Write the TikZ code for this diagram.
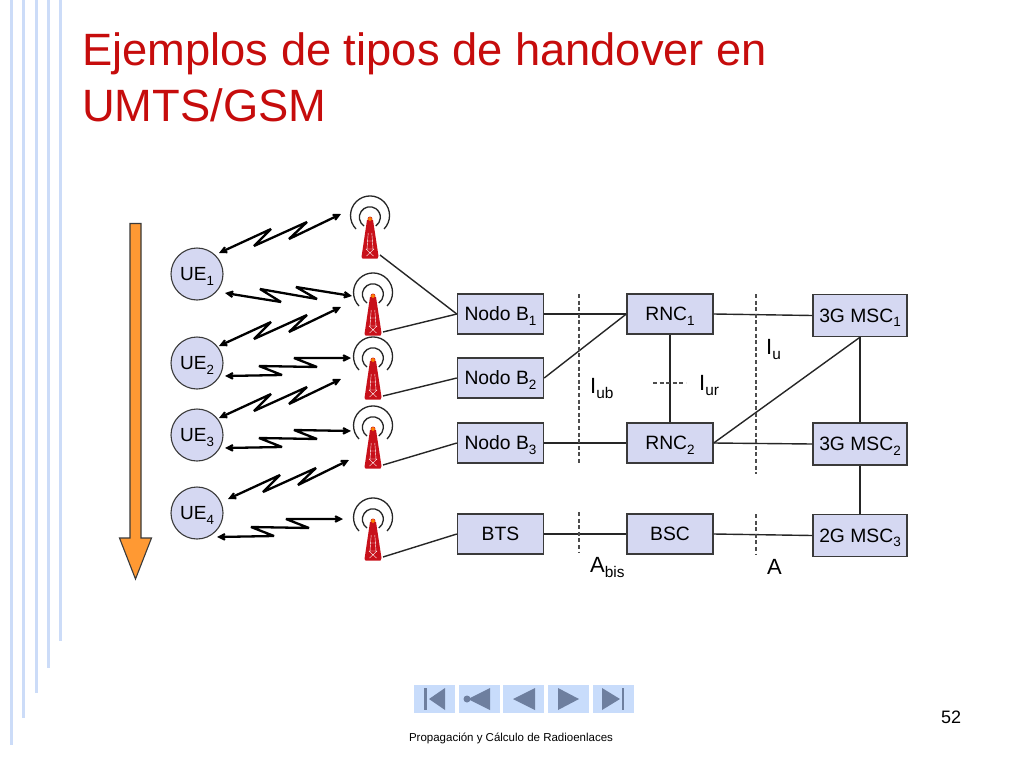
\documentclass[tikz,border=0pt]{standalone}
\usepackage{fontspec}
\setmainfont{Liberation Sans}
\usetikzlibrary{arrows.meta}
\definecolor{titlered}{HTML}{C60C0C}
\definecolor{barblue}{HTML}{CCDCF8}
\definecolor{boxfill}{HTML}{D5D8F2}
\definecolor{boxline}{HTML}{3A3A3A}
\definecolor{navfill}{HTML}{C8DCFB}
\definecolor{navicon}{HTML}{6E7F9F}
\definecolor{towerred}{HTML}{C8101A}
\definecolor{sweeporange}{HTML}{FF9933}
\newcommand{\lowtxt}[1]{\raisebox{-.24em}{\scalebox{.7}{#1}}}
\tikzset{
    x=1pt, y=-1pt,
    box/.style={draw=boxline, fill=boxfill, line width=1.4pt, minimum width=86pt, minimum height=40pt, inner sep=0pt, text height=13.5pt, text depth=0pt, font=\fontsize{19.3}{21}\selectfont},
    mscbox/.style={box, minimum width=94pt, minimum height=42pt},
    ue/.style={circle, draw=boxline, fill=boxfill, line width=1.1pt, minimum size=52pt, inner sep=0pt, text height=13.5pt, text depth=0pt, font=\fontsize{19}{21}\selectfont},
    iface/.style={inner sep=0pt, font=\fontsize{22}{24}\selectfont},
    link/.style={draw=black!85, line width=1.4pt},
    cut/.style={draw=black!70, line width=1.3pt, dash pattern=on 4pt off 2.6pt},
    radio/.style={line width=2.3pt, miter limit=3, {Stealth[length=10pt,width=10pt]}-{Stealth[length=10pt,width=10pt]}},
    boltup/.style={to path={-- ++(52,-24) -- ++(-17,17) -- ++(53,-24) -- ++(-18,17) -- (\tikztotarget)}},
    boltlevel/.style={to path={-- ++(56,9) -- ++(-21,-13) -- ++(57,10) -- ++(-21,-12) -- (\tikztotarget)}},
    boltlow/.style={to path={-- ++(57,-1) -- ++(-23,-9) -- ++(58,1) -- ++(-23,-9) -- (\tikztotarget)}},
    navbtn/.style={fill=navfill, minimum width=41pt, minimum height=28pt, inner sep=0pt},
    tower/.pic={
        \coordinate (-foot) at (10,36);
        \draw[black!85, line width=1.3pt] (-14,10) arc[start angle=224, end angle=-44, radius=19.5pt];
        \draw[black!85, line width=1.3pt] (-6,7) arc[start angle=236, end angle=-56, radius=10.5pt];
        \fill[towerred] (-3,1) -- (3,1) -- (8.5,37) -- (7.5,39.5) -- (-7.5,39.5) -- (-8.5,38) -- cycle;
        \draw[white, line width=.4pt] (-3,22) -- (3,22) (-4,30) -- (4,30) (-4,30) -- (3.5,37) (4,30) -- (-3.5,37) (-1.8,14) -- (-3,30) (1.8,14) -- (3,30);
        \fill[orange, draw=towerred, line width=.4pt] (0,0) circle (2.2pt);
    },
}
\begin{document}
\begin{tikzpicture}
    \useasboundingbox[fill=white] (0,0) rectangle (1024,768);

    \fill[barblue] (10,0) rectangle (13,745);
    \fill[barblue] (22,0) rectangle (25,718);
    \fill[barblue] (34.5,0) rectangle (37.5,693);
    \fill[barblue] (46.5,0) rectangle (49.5,668);
    \fill[barblue] (59,0) rectangle (62,641);

    \node[anchor=base west, inner sep=0pt, text=titlered, font=\fontsize{45.3}{55}\selectfont] (title1) at (82,66) {Ejemplos de tipos de handover en};
    \node[anchor=base west, inner sep=0pt, text=titlered, font=\fontsize{45.3}{55}\selectfont] (title2) at (82,121) {UMTS/GSM};

    \draw[boxline, fill=sweeporange, line width=1.1pt] (130,223.5) -- (141,223.5) -- (141,538) -- (151.5,538) -- (135.5,579) -- (119.5,538) -- (130,538) -- cycle;

    \node[ue] (ue1) at (197,274) {UE\lowtxt{1}};
    \node[ue] (ue2) at (197,363) {UE\lowtxt{2}};
    \node[ue] (ue3) at (197,435) {UE\lowtxt{3}};
    \node[ue] (ue4) at (197,513) {UE\lowtxt{4}};

    \pic (tw1) at (370,219) {tower};
    \pic (tw2) at (373,296) {tower};
    \pic (tw3) at (373,360) {tower};
    \pic (tw4) at (373,429) {tower};
    \pic (tw5) at (373,521) {tower};

    \node[box] (nodob1) at (500.5,314) {Nodo B\lowtxt{1}};
    \node[box] (nodob2) at (500.5,378) {Nodo B\lowtxt{2}};
    \node[box] (nodob3) at (500.5,443) {Nodo B\lowtxt{3}};
    \node[box] (bts) at (500.5,534) {BTS};
    \node[box] (rnc1) at (670,314) {RNC\lowtxt{1}};
    \node[box] (rnc2) at (670,443) {RNC\lowtxt{2}};
    \node[box] (bsc) at (670,534) {BSC};
    \node[mscbox] (msc1) at (860,315.5) {3G MSC\lowtxt{1}};
    \node[mscbox] (msc2) at (860,444) {3G MSC\lowtxt{2}};
    \node[mscbox] (msc3) at (860,535.5) {2G MSC\lowtxt{3}};

    \coordinate (ue1up) at (219,253);
    \coordinate (tw1in) at (341,214);
    \coordinate (ue1dn) at (225,293);
    \coordinate (tw2in) at (352,296);
    \coordinate (ue2up) at (219,346);
    \coordinate (tw2lo) at (341,307);
    \coordinate (ue2dn) at (225,376);
    \coordinate (tw3in) at (351,358);
    \coordinate (ue3up) at (219,418);
    \coordinate (tw3lo) at (341,379);
    \coordinate (ue3dn) at (225,448);
    \coordinate (tw4in) at (351,431);
    \coordinate (ue4up) at (228,499);
    \coordinate (tw4lo) at (349,460);
    \coordinate (ue4dn) at (217,537);
    \coordinate (tw5in) at (343,519);

    \draw[radio] (ue1up) to[boltup] (tw1in);
    \draw[radio] (ue2up) to[boltup] (tw2lo);
    \draw[radio] (ue3up) to[boltup] (tw3lo);
    \draw[radio] (ue4up) to[boltup] (tw4lo);
    \draw[radio] (ue1dn) to[boltlevel] (tw2in);
    \draw[radio] (ue2dn) to[boltlow] (tw3in);
    \draw[radio] (ue3dn) to[boltlow] (tw4in);
    \draw[radio] (ue4dn) to[boltlow] (tw5in);

    \draw[link] (tw1-foot) -- (nodob1.west);
    \draw[link] (tw2-foot) -- (nodob1.west);
    \draw[link] (tw3-foot) -- (nodob2.west);
    \draw[link] (tw4-foot) -- (nodob3.west);
    \draw[link] (tw5-foot) -- (bts.west);
    \draw[link] (nodob1.east) -- (rnc1.west);
    \draw[link] (nodob2.east) -- (rnc1.west);
    \draw[link] (nodob3.east) -- (rnc2.west);
    \draw[link] (bts.east) -- (bsc.west);
    \draw[link] (rnc1.south) -- (rnc2.north);
    \draw[link] (rnc1.east) -- (msc1.west);
    \draw[link] (rnc2.east) -- (msc2.west);
    \draw[link] (rnc2.east) -- (msc1.south);
    \draw[link] (bsc.east) -- (msc3.west);
    \draw[link] (msc1.south) -- (msc2.north);
    \draw[link] (msc2.south) -- (msc3.north);

    \coordinate (iubtop) at (579,294);
    \coordinate (iubend) at (579,463);
    \coordinate (abistop) at (579,512);
    \coordinate (abisend) at (579,552);
    \coordinate (iutop) at (756,294);
    \coordinate (iuend) at (756,474);
    \coordinate (atop) at (756,514);
    \coordinate (aend) at (756,555);
    \coordinate (iurleft) at (653,383);
    \coordinate (iurright) at (686,383);
    \draw[cut] (iubtop) -- (iubend);
    \draw[cut] (abistop) -- (abisend);
    \draw[cut] (iutop) -- (iuend);
    \draw[cut] (atop) -- (aend);
    \draw[cut] (iurleft) -- (iurright);

    \node[iface, anchor=base west] (iub) at (590,393) {I\lowtxt{ub}};
    \node[iface, anchor=base west] (iur) at (699,390) {I\lowtxt{ur}};
    \node[iface, anchor=base west] (iu) at (766,354) {I\lowtxt{u}};
    \node[iface, anchor=base west] (abis) at (590,572) {A\lowtxt{bis}};
    \node[iface, anchor=base west] (a) at (767,574) {A};

    \foreach \x in {434.5,479,523.5,568,613}
        \node[navbtn] (nav\x) at (\x,699) {};
    \fill[navicon] (424,688) rectangle (426.5,710);
    \fill[navicon] (429,699) -- (445,688) -- (445,710) -- cycle;
    \fill[navicon] (467,699) circle (3.5pt);
    \fill[navicon] (468,699) -- (490,688) -- (490,710) -- cycle;
    \fill[navicon] (513,699) -- (535,688) -- (535,710) -- cycle;
    \fill[navicon] (579,699) -- (558,688) -- (558,710) -- cycle;
    \fill[navicon] (620,699) -- (602,688) -- (602,710) -- cycle;
    \fill[navicon] (621.5,688) rectangle (624,710);

    \node[inner sep=0pt, font=\fontsize{18}{20}\selectfont] (pagenum) at (951,717) {52};
    \node[inner sep=0pt, font=\fontsize{11.5}{14}\selectfont] (footer) at (511,738) {Propagación y Cálculo de Radioenlaces};
\end{tikzpicture}
\end{document}
